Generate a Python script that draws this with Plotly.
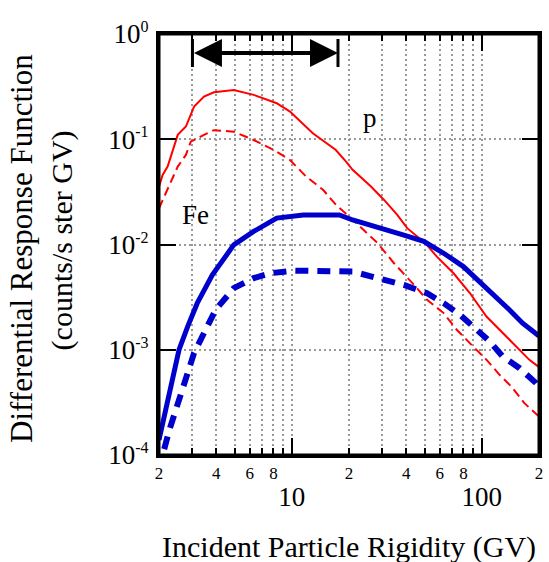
import math
import plotly.graph_objects as go

# ---------------- data ----------------
p_int_x = [2.0, 2.09, 2.22, 2.36, 2.51, 2.77, 2.88, 3.06, 3.45, 3.89, 4.95, 6.3, 8.33, 9.78,
           12.9, 17.0, 19.3, 20.9, 26.1, 30.6, 35.9, 40.5, 50.4, 58, 71, 86.7, 105.8,
           129.4, 151.8, 178, 200]
p_int_y = [0.0355, 0.0458, 0.0550, 0.0762, 0.110, 0.132, 0.158, 0.204, 0.254, 0.279, 0.294,
           0.264, 0.220, 0.183, 0.114, 0.0794, 0.0612, 0.0513, 0.0355, 0.0265, 0.0191,
           0.0143, 0.0103, 0.00767, 0.00533, 0.00344, 0.00207, 0.00144, 0.00107,
           0.000802, 0.000684]

p_diff_x = [2.0, 2.22, 2.51, 2.77, 2.94, 3.45, 3.89, 4.95, 6.3, 8.0, 9.78, 11.9, 14.6, 17.1,
            20.1, 28.3, 34.5, 44, 51.5, 63, 73.8, 90.2, 106, 124, 143, 167.5, 200]
p_diff_y = [0.0221, 0.0331, 0.0550, 0.0710, 0.0948, 0.110, 0.122, 0.118, 0.0984, 0.0794,
            0.0635, 0.0442, 0.0331, 0.0238, 0.0184, 0.0103, 0.00664, 0.00413, 0.00298,
            0.00223, 0.00155, 0.00107, 0.000802, 0.000578, 0.000447, 0.000311, 0.000232]

fe_int_x = [2.0, 2.18, 2.36, 2.55, 2.83, 3.18, 3.82, 4.95, 6.3, 8.33, 11.5, 17.8, 20.9, 26,
            38.9, 49.5, 63, 80, 119, 140, 164, 200]
fe_int_y = [0.000139, 0.000282, 0.000537, 0.00100, 0.00166, 0.00277, 0.00514, 0.00991,
            0.0133, 0.0178, 0.0191, 0.0191, 0.0171, 0.0153, 0.0123, 0.0107, 0.00826,
            0.00617, 0.00320, 0.00239, 0.00179, 0.00135]

fe_diff_x = [2.04, 2.09, 2.27, 2.56, 2.83, 3.06, 3.45, 3.97, 4.95, 6.3, 7.7, 10.2, 20.9, 26,
             38.9, 51.5, 63, 77, 90, 110, 129, 158, 193, 200]
fe_diff_y = [0.0000708, 0.000100, 0.000174, 0.000360, 0.000600, 0.000933, 0.00144, 0.00239,
             0.00385, 0.00479, 0.00533, 0.00565, 0.00553, 0.00495, 0.00413, 0.00344,
             0.00277, 0.00214, 0.00166, 0.00120, 0.000861, 0.000668, 0.000482, 0.000437]

# arrow marking the rigidity range
arrow_x = [3, 17.5]
arrow_y = 0.66

# axis ticks
x_minor_vals = [2, 3, 4, 5, 6, 7, 8, 9, 20, 30, 40, 50, 60, 70, 80, 90, 200]
x_minor_text = ["2", "", "4", "", "6", "", "8", "", "2", "", "4", "", "6", "", "8", "", "2"]
x_major_vals = [10, 100]
x_major_text = ["10", "100"]
y_vals = [1e-4, 1e-3, 1e-2, 1e-1, 1]
y_exps = ["-4", "-3", "-2", "-1", "0"]

labels = [("p", 25.9, 0.16), ("Fe", 3.1, 0.0191)]

RED = "rgb(255,0,0)"
BLUE = "rgb(0,0,205)"
FONT = "Liberation Serif"
GRID = "#999999"

fig = go.Figure()
fig.add_trace(go.Scatter(x=p_int_x, y=p_int_y, mode="lines",
                         line=dict(color=RED, width=2), showlegend=False))
fig.add_trace(go.Scatter(x=p_diff_x, y=p_diff_y, mode="lines",
                         line=dict(color=RED, width=2, dash="9px,5px"), showlegend=False))
fig.add_trace(go.Scatter(x=fe_int_x, y=fe_int_y, mode="lines",
                         line=dict(color=BLUE, width=5), showlegend=False))
fig.add_trace(go.Scatter(x=fe_diff_x, y=fe_diff_y, mode="lines",
                         line=dict(color=BLUE, width=6, dash="13px,9px"), showlegend=False))
# end bars of the arrow
fig.add_trace(go.Scatter(x=arrow_x, y=[arrow_y, arrow_y], mode="markers",
                         marker=dict(symbol="line-ns", size=20,
                                     line=dict(width=3, color="black")),
                         showlegend=False))
# invisible trace on the overlay axis
fig.add_trace(go.Scatter(x=[10], y=[0.5], xaxis="x2", mode="markers",
                         marker=dict(opacity=0), showlegend=False, hoverinfo="skip"))

xrange = [math.log10(2), math.log10(200)]
common_x = dict(type="log", range=xrange, ticks="inside", tickwidth=2, tickcolor="black",
                showline=True, linecolor="black", linewidth=3, mirror="ticks",
                showgrid=True, gridcolor=GRID, gridwidth=2, griddash="2px,3px",
                zeroline=False, tickmode="array")

fig.update_layout(
    width=549, height=562,
    margin=dict(l=159, r=6, t=34, b=107),
    paper_bgcolor="white", plot_bgcolor="white",
    font=dict(family=FONT, color="black"),
    xaxis=dict(**common_x, tickvals=x_minor_vals, ticktext=x_minor_text, ticklen=7,
               tickfont=dict(size=17, family=FONT), ticklabelstandoff=1),
    xaxis2=dict(**common_x, overlaying="x", anchor="y", side="bottom",
                tickvals=x_major_vals, ticktext=x_major_text, ticklen=17,
                tickfont=dict(size=27, family=FONT), ticklabelstandoff=16),
    yaxis=dict(type="log", range=[-4, 0], tickmode="array", tickvals=y_vals,
               ticktext=["10<sup><span style='font-size:16px'>%s</span></sup>" % e for e in y_exps],
               ticks="inside", ticklen=17, tickwidth=2, tickcolor="black",
               showline=True, linecolor="black", linewidth=3, mirror="ticks",
               showgrid=True, gridcolor=GRID, gridwidth=2, griddash="2px,3px",
               zeroline=False, tickfont=dict(size=27, family=FONT), ticklabelstandoff=2),
)

# frame of the plotting area
fig.add_shape(type="rect", xref="paper", yref="paper", x0=0, x1=1, y0=0, y1=1,
              line=dict(color="black", width=3), layer="above")

# double-headed arrow
fig.add_annotation(x=math.log10(arrow_x[1]), y=math.log10(arrow_y),
                   ax=math.log10(arrow_x[0]), ay=math.log10(arrow_y),
                   xref="x", yref="y", axref="x", ayref="y", text="",
                   showarrow=True, arrowhead=2, startarrowhead=2, arrowside="end+start",
                   arrowwidth=4, arrowsize=1.4, startarrowsize=1.4, arrowcolor="black",
                   standoff=0, startstandoff=0)

for txt, lx, ly in labels:
    fig.add_annotation(x=math.log10(lx), y=math.log10(ly), xref="x", yref="y", text=txt,
                       showarrow=False, font=dict(size=27, family=FONT, color="black"),
                       xanchor="center", yanchor="middle")

# axis titles
fig.add_annotation(x=-0.36, y=0.49, xref="paper", yref="paper", xanchor="center",
                   yanchor="middle", text="Differential Response Function", textangle=-90,
                   showarrow=False, font=dict(size=31, family=FONT, color="black"))
fig.add_annotation(x=-0.255, y=0.51, xref="paper", yref="paper", xanchor="center",
                   yanchor="middle", text="(counts/s ster GV)", textangle=-90,
                   showarrow=False, font=dict(size=30, family=FONT, color="black"))
fig.add_annotation(x=0.5, y=-0.218, xref="paper", yref="paper", xanchor="center",
                   yanchor="middle", text="Incident Particle Rigidity (GV)",
                   showarrow=False, font=dict(size=30, family=FONT, color="black"))

fig.write_html("out.html", config={"displayModeBar": False},
               post_script="document.body.style.margin='0px';document.body.style.overflow='hidden';")
